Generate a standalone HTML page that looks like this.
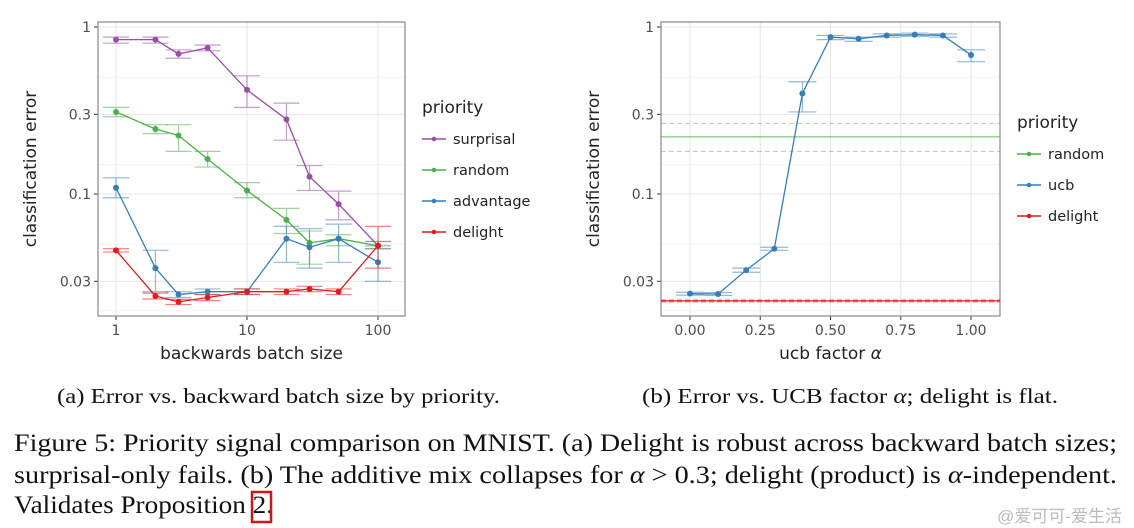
<!DOCTYPE html>
<html><head><meta charset="utf-8"><style>
html,body{margin:0;padding:0;background:#fff;width:1134px;height:528px;overflow:hidden}
svg{display:block}
.s{font-family:"DejaVu Sans","Liberation Sans",sans-serif;fill:#222}
.t{font-family:"DejaVu Sans","Liberation Sans",sans-serif;fill:#4d4d4d;font-size:14px}
.r{font-family:"Liberation Serif",serif;fill:#111}
</style></head><body>
<svg id="fig" width="1134" height="528" viewBox="0 0 1134 528">
<g id="left"></g>
<g id="right"></g>
<text class="r" x="57" y="403" font-size="21" textLength="443" lengthAdjust="spacingAndGlyphs">(a) Error vs. backward batch size by priority.</text>
<text class="r" x="642" y="403" font-size="21" textLength="416" lengthAdjust="spacingAndGlyphs">(b) Error vs. UCB factor <tspan font-style="italic">α</tspan>; delight is flat.</text>
<text class="r" x="14" y="451" font-size="25.5" textLength="1103" lengthAdjust="spacingAndGlyphs">Figure 5: Priority signal comparison on MNIST. (a) Delight is robust across backward batch sizes;</text>
<text class="r" x="14" y="483" font-size="25.5" textLength="1103" lengthAdjust="spacingAndGlyphs">surprisal-only fails. (b) The additive mix collapses for <tspan font-style="italic">α</tspan> &gt; 0.3; delight (product) is <tspan font-style="italic">α</tspan>-independent.</text>
<text class="r" x="14" y="513" font-size="25.5" textLength="259" lengthAdjust="spacingAndGlyphs">Validates Proposition 2.</text>
<rect x="252" y="492" width="19" height="30" fill="none" stroke="#d0141b" stroke-width="2.5"/>
<text x="1122" y="522" font-size="17" text-anchor="end" fill="#bbb" font-family="'Liberation Sans','Noto Sans CJK SC',sans-serif">@爱可可-爱生活</text>
</svg>
<script>
const xsA=[1,2,3,5,10,20,30,50,100];
const surprisal=[0.84,0.84,0.69,0.75,0.42,0.28,0.127,0.087,0.049];
const surprisalLo=[0.80,0.80,0.65,0.72,0.33,0.21,0.105,0.07,0.047];
const surprisalHi=[0.87,0.87,0.73,0.78,0.51,0.35,0.148,0.104,0.052];
const random=[0.31,0.245,0.224,0.162,0.105,0.07,0.051,0.054,0.049];
const randomLo=[0.29,0.23,0.18,0.145,0.095,0.058,0.038,0.049,0.047];
const randomHi=[0.33,0.26,0.26,0.18,0.117,0.082,0.06,0.057,0.052];
const advantage=[0.109,0.036,0.025,0.026,0.026,0.054,0.048,0.054,0.039];
const advantageLo=[0.095,0.026,0.024,0.025,0.025,0.039,0.036,0.039,0.030];
const advantageHi=[0.125,0.046,0.026,0.027,0.027,0.064,0.062,0.066,0.049];
const delight=[0.046,0.0245,0.0226,0.024,0.026,0.026,0.027,0.026,0.049];
const delightLo=[0.045,0.0235,0.0218,0.023,0.025,0.025,0.026,0.025,0.036];
const delightHi=[0.047,0.0255,0.0234,0.025,0.027,0.027,0.028,0.027,0.064];
const xsB=[0,0.1,0.2,0.3,0.4,0.5,0.6,0.7,0.8,0.9,1.0];
const ucb=[0.0253,0.0252,0.035,0.047,0.40,0.87,0.85,0.89,0.90,0.89,0.68];
const ucbLo=[0.0248,0.0247,0.034,0.046,0.31,0.84,0.82,0.87,0.88,0.87,0.62];
const ucbHi=[0.0258,0.0257,0.036,0.048,0.47,0.89,0.87,0.91,0.92,0.91,0.73];
const randomLevel=[0.18,0.22,0.265];
const delightLevel=[0.0226,0.0229,0.0232];
const yTicks=[1,0.3,0.1,0.03];
const yTickLabels=["1","0.3","0.1","0.03"];
const xTicksA=[1,10,100];
const xTicksALabels=["1","10","100"];
const xTicksB=[0,0.25,0.5,0.75,1];
const xTicksBLabels=["0.00","0.25","0.50","0.75","1.00"];

const NS="http://www.w3.org/2000/svg";
function mk(p,tag,a){const e=document.createElementNS(NS,tag);for(const k in a)e.setAttribute(k,a[k]);p.appendChild(e);return e;}
const yS=v=>27-167*Math.log10(v);
const xA=v=>116+131*Math.log10(v);
const xB=v=>690+281*v;
const COL={surprisal:"#984ea3",random:"#4daf4a",advantage:"#377eb8",delight:"#e41a1c",ucb:"#377eb8"};

function frame(g,x0,x1,xs,xl,xf,xt,title){
  const y0=22,y1=316;
  const minor=[0.5,0.15,0.05,0.02];
  minor.forEach(v=>{const l=mk(g,"line",{x1:x0,x2:x1,y1:yS(v),y2:yS(v),stroke:"#f3f3f3","stroke-width":1});
  
  });
  yTicks.forEach((v,i)=>{const l=mk(g,"line",{x1:x0,x2:x1,y1:yS(v),y2:yS(v),stroke:"#e4e4e4","stroke-width":1});
    
    
    mk(g,"line",{x1:x0-4,x2:x0,y1:yS(v),y2:yS(v),stroke:"#333"});
    const t=mk(g,"text",{x:x0-7,y:yS(v)+5,"text-anchor":"end",class:"t"});t.textContent=yTickLabels[i];
    
    });
  xs.forEach((v,i)=>{const l=mk(g,"line",{x1:xf(v),x2:xf(v),y1:y0,y2:y1,stroke:"#e4e4e4"});
    
    
    mk(g,"line",{x1:xf(v),x2:xf(v),y1:y1,y2:y1+4,stroke:"#333"});
    const t=mk(g,"text",{x:xf(v),y:y1+19,"text-anchor":"middle",class:"t"});t.textContent=xl[i];
    
    });
  const b=mk(g,"rect",{x:x0,y:y0,width:x1-x0,height:y1-y0,fill:"none",stroke:"#888","stroke-width":1.2});
  
  
  const xt2=mk(g,"text",{x:(x0+x1)/2,y:359,"text-anchor":"middle",class:"s","font-size":17});xt2.innerHTML=xt;
  
  
  const yt=mk(g,"text",{x:0,y:0,"text-anchor":"middle",class:"s","font-size":17,transform:`translate(${x0-62},${(y0+y1)/2}) rotate(-90)`});yt.textContent=title;
  
  
}
function series(g,xs,xf,vals,lo,hi,col,name,cap){
  for(let i=0;i<xs.length;i++){const x=xf(xs[i]);
    const e=mk(g,"path",{d:`M${x-cap},${yS(hi[i])}H${x+cap}M${x},${yS(hi[i])}V${yS(lo[i])}M${x-cap},${yS(lo[i])}H${x+cap}`,stroke:col,"stroke-opacity":0.55,fill:"none","stroke-width":1.2});
    
    }
  const p=mk(g,"polyline",{points:xs.map((v,i)=>xf(v)+","+yS(vals[i])).join(" "),fill:"none",stroke:col,"stroke-width":1.3});
  
  
  xs.forEach((v,i)=>{const c=mk(g,"circle",{cx:xf(v),cy:yS(vals[i]),r:3,fill:col});
    
    });
}
function legend(g,x,y,items){
  const t=mk(g,"text",{x:x,y:y,class:"s","font-size":17});t.textContent="priority";
  
  
  items.forEach((it,i)=>{const yy=y+26+i*31;const gg=mk(g,"g",{});
    
    
    mk(gg,"line",{x1:x,x2:x+24,y1:yy,y2:yy,stroke:it[1],"stroke-width":1.5});
    mk(gg,"circle",{cx:x+12,cy:yy,r:2.3,fill:it[1]});
    const tt=mk(gg,"text",{x:x+31,y:yy+5,class:"s","font-size":14.5});tt.textContent=it[0];});
}
const L=document.getElementById("left");
frame(L,98,405,xTicksA,xTicksALabels,xA,"backwards batch size","classification error");
series(L,xsA,xA,surprisal,surprisalLo,surprisalHi,COL.surprisal,"surprisal",13);
series(L,xsA,xA,random,randomLo,randomHi,COL.random,"random",13);
series(L,xsA,xA,advantage,advantageLo,advantageHi,COL.advantage,"advantage",13);
series(L,xsA,xA,delight,delightLo,delightHi,COL.delight,"delight",13);
legend(L,422,113,[["surprisal",COL.surprisal],["random",COL.random],["advantage",COL.advantage],["delight",COL.delight]]);

const R=document.getElementById("right");
frame(R,661,1000,xTicksB,xTicksBLabels,xB,"ucb factor <tspan font-style='italic'>α</tspan>","classification error");
randomLevel.forEach((v,i)=>{const l=mk(R,"line",{x1:661,x2:1000,y1:yS(v),y2:yS(v),stroke:COL.random,"stroke-opacity":i==1?0.9:0.5,"stroke-dasharray":i==1?"":"5,3","stroke-width":1});
  
  });
delightLevel.forEach((v,i)=>{const l=mk(R,"line",{x1:661,x2:1000,y1:yS(v),y2:yS(v),stroke:COL.delight,"stroke-opacity":i==1?1:0.5,"stroke-dasharray":i==1?"":"5,3","stroke-width":1.2});
  
  });
series(R,xsB,xB,ucb,ucbLo,ucbHi,COL.ucb,"ucb",14);
legend(R,1017,128,[["random",COL.random],["ucb",COL.ucb],["delight",COL.delight]]);
</script>
</body></html>
